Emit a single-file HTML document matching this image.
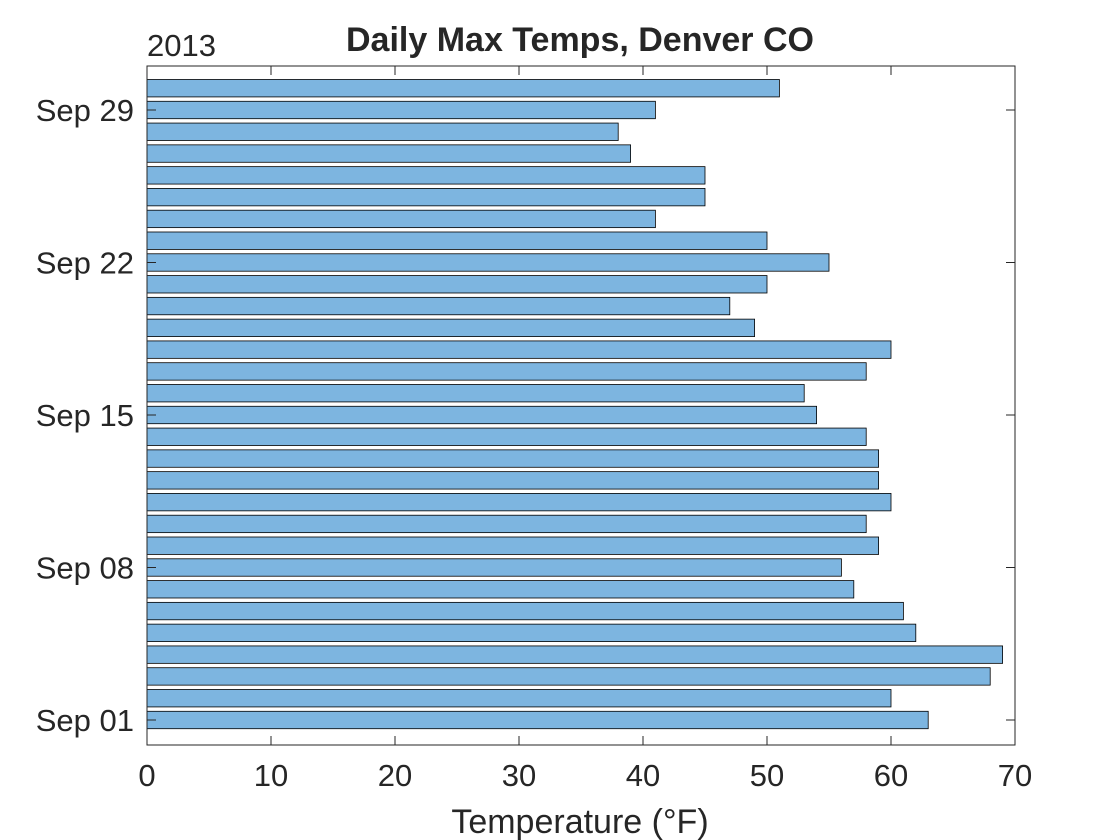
<!DOCTYPE html>
<html><head><meta charset="utf-8"><style>
html,body{margin:0;padding:0;background:#fff;}
svg text{font-family:"Liberation Sans",Helvetica,Arial,sans-serif;fill:#262626;}
</style></head><body>
<svg id="chart" width="1120" height="840" viewBox="0 0 1120 840" xmlns="http://www.w3.org/2000/svg" style="position:absolute;left:0;top:0">
<rect x="0" y="0" width="1120" height="840" fill="#fff"/>
<g id="bars"></g>
<g id="axes"></g>
</svg>
<script>
const days = [1,2,3,4,5,6,7,8,9,10,11,12,13,14,15,16,17,18,19,20,21,22,23,24,25,26,27,28,29,30];
const temps = [63,60,68,69,62,61,57,56,59,58,60,59,59,58,54,53,58,60,49,47,50,55,50,41,45,45,39,38,41,51];
const xTicks = [0,10,20,30,40,50,60,70];
const yTickDays = [1,8,15,22,29];
const yTickLabels = ["Sep 01","Sep 08","Sep 15","Sep 22","Sep 29"];

const L=147,R=1015,T=66,B=745;
const xMin=0,xMax=70;
const x = v => L + (v - xMin) / (xMax - xMin) * (R - L);
const dayStep = 21.786;
const y = d => 720 - (d - 1) * dayStep;
const NS="http://www.w3.org/2000/svg";
function mk(tag, attrs, parent){const e=document.createElementNS(NS,tag);for(const k in attrs)e.setAttribute(k,attrs[k]);parent.appendChild(e);return e;}
const bars=document.getElementById('bars'), axes=document.getElementById('axes');
const bh = dayStep*0.8;
days.forEach((d,i)=>{
  const r=mk('rect',{x:x(0),y:y(d)-bh/2,width:x(temps[i])-x(0),height:bh,fill:'#7db5e0',stroke:'#000','stroke-width':0.8},bars);
  
  
});
const box=mk('rect',{x:L,y:T,width:R-L,height:B-T,fill:'none',stroke:'#262626','stroke-width':1},axes);


xTicks.forEach(v=>{
  mk('line',{x1:x(v),x2:x(v),y1:B,y2:B-9,stroke:'#262626'},axes);
  mk('line',{x1:x(v),x2:x(v),y1:T,y2:T+9,stroke:'#262626'},axes);
  const t=mk('text',{x:x(v),y:786,'font-size':31,'text-anchor':'middle'},axes);
  t.textContent=v;
  
  
});
yTickDays.forEach((d,i)=>{
  mk('line',{x1:L,x2:L+9,y1:y(d),y2:y(d),stroke:'#262626'},axes);
  mk('line',{x1:R,x2:R-9,y1:y(d),y2:y(d),stroke:'#262626'},axes);
  const t=mk('text',{x:134,y:y(d)+11,'font-size':31,'text-anchor':'end'},axes);
  t.textContent=yTickLabels[i];
  
  
});
</script>
<svg style="position:absolute;left:0;top:0" width="1120" height="840">
<text x="580" y="51" font-size="34" font-weight="bold" text-anchor="middle" fill="#000" style="font-family:'Liberation Sans',sans-serif">Daily Max Temps, Denver CO</text>
<text x="147" y="56" font-size="31" fill="#262626" style="font-family:'Liberation Sans',sans-serif">2013</text>
<text x="580" y="833" font-size="34" text-anchor="middle" fill="#262626" style="font-family:'Liberation Sans',sans-serif">Temperature (°F)</text>
</svg>
</body></html>
